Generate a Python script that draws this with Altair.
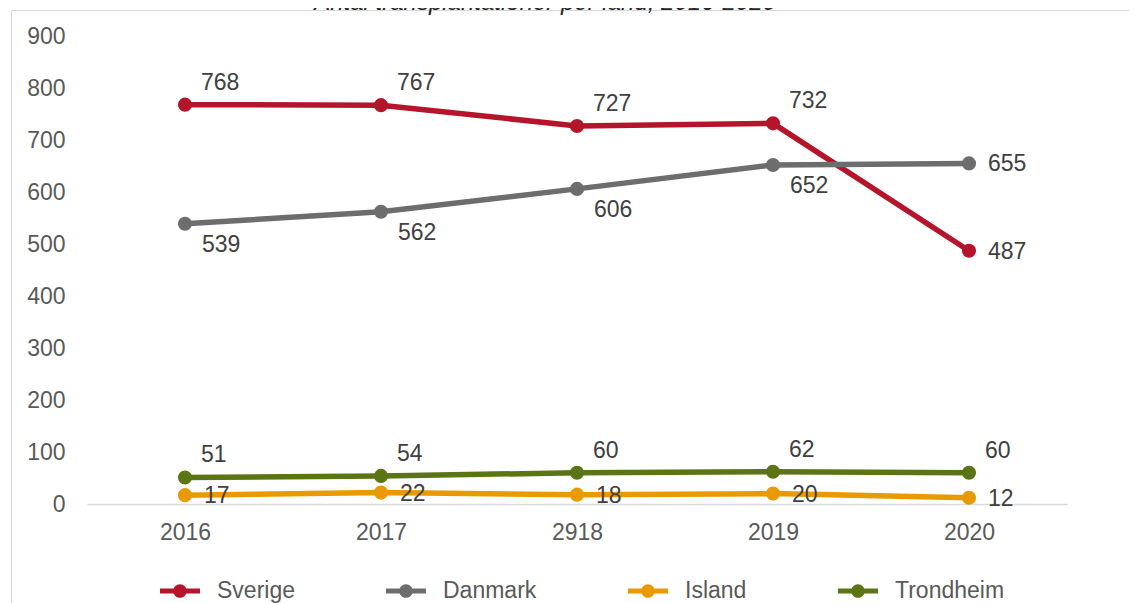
import altair as alt
import pandas as pd

years = ["2016", "2017", "2918", "2019", "2020"]
series_names = ["Sverige", "Danmark", "Island", "Trondheim"]
sverige = [768, 767, 727, 732, 487]
danmark = [539, 562, 606, 652, 655]
island = [17, 22, 18, 20, 12]
trondheim = [51, 54, 60, 62, 60]
colors = ["#B5152B", "#6D6D6D", "#E99A00", "#5B7514"]
y_ticks = [0, 100, 200, 300, 400, 500, 600, 700, 800, 900]
title_text = "Antal transplantationer per land, 2016-2020"

rows = []
for name, vals in zip(series_names, [sverige, danmark, island, trondheim]):
    for yr, v in zip(years, vals):
        rows.append({"year": yr, "series": name, "value": v})
df = pd.DataFrame(rows)

FONT = "Liberation Sans"

x_enc = alt.X("year:O", sort=years,
              scale=alt.Scale(type="point", padding=0.5),
              axis=alt.Axis(title=None, labelAngle=0, ticks=False,
                            domainColor="#D9D9D9", domainWidth=1.5,
                            labelFontSize=23, labelColor="#595959",
                            labelFont=FONT, labelPadding=17))
y_enc = alt.Y("value:Q",
              scale=alt.Scale(domain=[0, 900], nice=False),
              axis=alt.Axis(title=None, values=y_ticks, grid=False,
                            domain=False, ticks=False, labelFontSize=23,
                            labelColor="#595959", labelFont=FONT,
                            labelPadding=22))

# legend symbol: a short thick line with a dot in the middle
symbol_path = ("M-1,-0.12L1,-0.12L1,0.12L-1,0.12Z "
               "M-0.34,0A0.34,0.34 0 1,1 0.34,0A0.34,0.34 0 1,1 -0.34,0Z")


def make_legend():
    return alt.Legend(
        title=None, orient="none", direction="horizontal",
        legendX=73, legendY=535, padding=0,
        symbolType=symbol_path, symbolSize=1600,
        symbolStrokeWidth=0, labelOffset=17,
        columnPadding=91, labelFontSize=23,
        labelColor="#595959", labelFont=FONT)


base = alt.Chart(df)

lines = base.mark_line(strokeWidth=5.5, strokeCap="round").encode(
    x=x_enc, y=y_enc,
    color=alt.Color("series:N",
                    scale=alt.Scale(domain=series_names, range=colors),
                    legend=make_legend()),
    detail="series:N",
)

points = base.mark_circle(size=200, opacity=1).encode(
    x=x_enc, y=y_enc,
    color=alt.Color("series:N",
                    scale=alt.Scale(domain=series_names, range=colors),
                    legend=make_legend()),
)

txt_style = dict(fontSize=23, color="#404040", font=FONT, align="left",
                 baseline="middle")

labels_above = base.mark_text(dx=16, dy=-22, **txt_style).encode(
    x=x_enc, y=y_enc, text="value:Q"
).transform_filter(
    "(datum.series == 'Sverige' && datum.year != '2020') || datum.series == 'Trondheim'"
)

labels_below = base.mark_text(dx=17, dy=21, **txt_style).encode(
    x=x_enc, y=y_enc, text="value:Q"
).transform_filter(
    "datum.series == 'Danmark' && datum.year != '2020'"
)

labels_right = base.mark_text(dx=19, dy=1, **txt_style).encode(
    x=x_enc, y=y_enc, text="value:Q"
).transform_filter(
    "datum.series == 'Island' || ((datum.series == 'Sverige' || datum.series == 'Danmark') && datum.year == '2020')"
)

frame_df = pd.DataFrame({"k": [0]})
frame_v = alt.Chart(frame_df).mark_rule(color="#D9D9D9", strokeWidth=1.2).encode(
    x=alt.value(-75.5), y=alt.value(-25.5), y2=alt.value(580)
)
frame_h = alt.Chart(frame_df).mark_rule(color="#D9D9D9", strokeWidth=1.2).encode(
    x=alt.value(-75.5), x2=alt.value(1050), y=alt.value(-25.5)
)
title = alt.Chart(frame_df).mark_text(
    text=title_text, fontSize=24, fontStyle="italic", font=FONT,
    color="#262626", align="center", baseline="alphabetic"
).encode(x=alt.value(458), y=alt.value(-26))

chart = alt.layer(frame_v, frame_h, title, lines, points,
                  labels_above, labels_below, labels_right).properties(
    width=980, height=468,
    autosize=alt.AutoSizeParams(type="none"),
    padding={"left": 79, "top": 28, "right": 62, "bottom": 99},
    background="white",
).configure_view(strokeWidth=0, stroke="transparent")

chart.save("out.html", embed_options={"renderer": "svg", "actions": False})
